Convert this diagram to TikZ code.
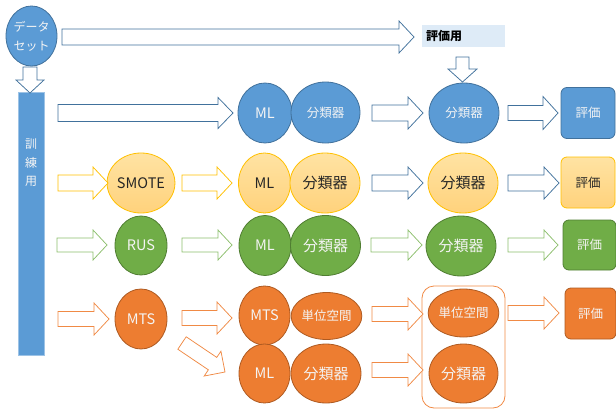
\documentclass[tikz,border=0pt]{standalone}
\usepackage{fontspec}
\setmainfont{Noto Sans CJK JP}
\usetikzlibrary{shapes.geometric,calc}
\definecolor{bfill}{HTML}{5B9BD5}
\definecolor{bline}{HTML}{41719C}
\definecolor{ytop}{HTML}{FFE3A3}
\definecolor{ybot}{HTML}{FFD27C}
\definecolor{yline}{HTML}{FFC000}
\definecolor{ytext}{HTML}{262626}
\definecolor{gfill}{HTML}{70AD47}
\definecolor{gline}{HTML}{507E32}
\definecolor{garrow}{HTML}{8CBF6C}
\definecolor{ofill}{HTML}{ED7D31}
\definecolor{oline}{HTML}{AE5A21}
\definecolor{oarrow}{HTML}{F08A45}
\definecolor{lblue}{HTML}{DEEBF7}
\definecolor{barborder}{HTML}{9DC3E6}
\definecolor{softwhite}{HTML}{F4F4F4}
\newcommand\fsz[1]{\fontsize{#1}{#1}\selectfont}
% style, start, end, body half width, head half width, head length
\newcommand\blockarrow[6]{%
  \draw[arrowshape,#1] let \p1=(#2), \p2=(#3),
    \n1={atan2(\y2-\y1,\x2-\x1)}, \n2={veclen(\x2-\x1,\y2-\y1)} in
    [shift={(\p1)}, rotate=\n1]
    (0pt,-#4pt) -- ({\n2*1pt-#6pt},-#4pt) -- ({\n2*1pt-#6pt},-#5pt)
    -- ({\n2*1pt},0pt) -- ({\n2*1pt-#6pt},#5pt) -- ({\n2*1pt-#6pt},#4pt)
    -- (0pt,#4pt) -- cycle;}
\begin{document}
\begin{tikzpicture}[x=1pt,y=-1pt,
  arrowshape/.style={draw, fill=white, line width=0.75pt, line join=miter},
  ab/.style={draw=bline},
  ay/.style={draw=yline},
  ag/.style={draw=garrow},
  ao/.style={draw=oarrow},
  ell/.style={ellipse, inner sep=0pt, line width=0.8pt},
  blueE/.style={ell, fill=bfill, draw=bline, text=softwhite},
  yelE/.style={ell, draw=yline, top color=ytop, bottom color=ybot, text=ytext},
  greE/.style={ell, fill=gfill, draw=gline, text=softwhite},
  orgE/.style={ell, fill=ofill, draw=oline, text=softwhite},
  mlsz/.style={minimum width=52pt, minimum height=60pt, font=\fsz{14.5}},
  clsz/.style={minimum width=70pt, minimum height=60pt, font=\fsz{15}},
  evbox/.style={rectangle, rounded corners=6pt, minimum width=54pt, minimum height=51pt, inner sep=0pt, line width=0.8pt, font=\fsz{12.5}},
]
\useasboundingbox (0,0) rectangle (616,410);

% ---------- top ----------
\node[blueE, minimum width=51pt, minimum height=60pt, align=center, font=\fontsize{12}{19}\selectfont] (ds) at (31.5,36) {データ\\セット};
\node[rectangle, fill=lblue, minimum width=83pt, minimum height=22pt, inner sep=0pt] (evset) at (463.5,36) {};
\node[anchor=west, inner sep=0pt, font=\fsz{12}\bfseries, text=black] (evsettxt) at (426,36) {評価用};
\node[rectangle, fill=bfill, draw=barborder, line width=0.6pt, minimum width=26pt, minimum height=263pt, inner sep=0pt] (train) at (31,223.5) {};
\node[align=center, text=softwhite, font=\fontsize{12}{18.5}\selectfont] (traintxt) at (31,163) {訓\\練\\用};

\coordinate (t0s) at (62,37);   \coordinate (t0e) at (414,37);
\coordinate (d1s) at (30,67);   \coordinate (d1e) at (30,93);
\coordinate (d2s) at (462.5,57); \coordinate (d2e) at (462.5,82);
\blockarrow{ab}{t0s}{t0e}{8}{16}{15}
\blockarrow{ab}{d1s}{d1e}{7}{14}{13}
\blockarrow{ab}{d2s}{d2e}{6.5}{14.5}{13}

% ---------- blue row ----------
\node[blueE, minimum width=54pt, minimum height=60pt, font=\fsz{14.5}] (ml1) at (265,113) {ML};
\node[blueE, minimum width=69pt, minimum height=61pt, font=\fsz{12.5}] (cl1) at (325.5,112.5) {分類器};
\node[blueE, minimum width=70pt, minimum height=60pt, font=\fsz{12.5}] (cl1b) at (464,113) {分類器};
\node[evbox, fill=bfill, draw=bline, text=softwhite] (ev1) at (588,113) {評価};
\coordinate (b1s) at (58,113);  \coordinate (b1e) at (233,113);
\coordinate (b2s) at (372,113); \coordinate (b2e) at (423,113);
\coordinate (b3s) at (508,113); \coordinate (b3e) at (558,113);
\blockarrow{ab}{b1s}{b1e}{8.5}{15.5}{15}
\blockarrow{ab}{b2s}{b2e}{8}{16}{15}
\blockarrow{ab}{b3s}{b3e}{7.5}{16.5}{15}

% ---------- yellow row ----------
\node[yelE, minimum width=52pt, minimum height=60pt, font=\fsz{14.5}] (smote) at (141,183) {SMOTE};
\node[yelE, mlsz] (ml2) at (264.5,183) {ML};
\node[yelE, clsz] (cl2) at (325,183) {分類器};
\node[yelE, clsz] (cl2b) at (463,183) {分類器};
\node[evbox, draw=yline, top color=ytop, bottom color=ybot, text=ytext] (ev2) at (588,182.5) {評価};
\coordinate (y1s) at (58,183);  \coordinate (y1e) at (108,183);
\coordinate (y2s) at (182,183); \coordinate (y2e) at (232,183);
\coordinate (y3s) at (372,183); \coordinate (y3e) at (423,183);
\coordinate (y4s) at (508,183); \coordinate (y4e) at (559,183);
\blockarrow{ay}{y1s}{y1e}{8}{16}{15}
\blockarrow{ay}{y2s}{y2e}{8}{16}{15}
\blockarrow{ab}{y3s}{y3e}{8}{16}{15}
\blockarrow{ab}{y4s}{y4e}{8}{16}{15}

% ---------- green row ----------
\node[greE, minimum width=52pt, minimum height=59pt, font=\fsz{14.5}] (rus) at (141,245.5) {RUS};
\node[greE, mlsz] (ml3) at (265,245.5) {ML};
\node[greE, clsz] (cl3) at (325.5,245.5) {分類器};
\node[greE, clsz] (cl3b) at (461,246) {分類器};
\node[evbox, fill=gfill, draw=gline, text=softwhite, minimum width=53pt, minimum height=50pt] (ev3) at (589.5,245) {評価};
\coordinate (g1s) at (57,245);  \coordinate (g1e) at (107,245);
\coordinate (g2s) at (182,245); \coordinate (g2e) at (232,245);
\coordinate (g3s) at (371,245); \coordinate (g3e) at (422,245);
\coordinate (g4s) at (508,245); \coordinate (g4e) at (558,245);
\blockarrow{ag}{g1s}{g1e}{7}{15}{14}
\blockarrow{ag}{g2s}{g2e}{7}{15}{14}
\blockarrow{ag}{g3s}{g3e}{7}{15}{14}
\blockarrow{ag}{g4s}{g4e}{7}{15}{14}

% ---------- orange row ----------
\node[orgE, minimum width=52pt, minimum height=60pt, font=\fsz{14.5}] (mts) at (141,319) {MTS};
\node[orgE, minimum width=51pt, minimum height=59pt, font=\fsz{14.5}] (mts2) at (264.5,315.5) {MTS};
\node[orgE, minimum width=69pt, minimum height=47pt, font=\fsz{12.5}] (unit1) at (326.5,316) {単位空間};
\node[orgE, minimum width=51pt, minimum height=59pt, font=\fsz{14.5}] (ml4) at (264.5,373.5) {ML};
\node[orgE, minimum width=70pt, minimum height=59pt, font=\fsz{15}] (cl4) at (326,373.5) {分類器};
\node[rectangle, rounded corners=12pt, draw=oarrow, line width=0.8pt, minimum width=83pt, minimum height=122pt, inner sep=0pt] (grp) at (463.5,347) {};
\node[orgE, minimum width=69pt, minimum height=48pt, font=\fsz{12.5}] (unit2) at (463.5,313) {単位空間};
\node[orgE, minimum width=69pt, minimum height=59pt, font=\fsz{15}] (cl4b) at (463.5,373.5) {分類器};
\node[evbox, fill=ofill, draw=oline, text=softwhite, minimum width=51pt, minimum height=51pt] (ev4) at (590.5,313.5) {評価};
\coordinate (o1s) at (58,319);  \coordinate (o1e) at (109,319);
\coordinate (o2s) at (182,318); \coordinate (o2e) at (232,318);
\coordinate (o3s) at (182,343); \coordinate (o3e) at (225,372);
\coordinate (o4s) at (372,314); \coordinate (o4e) at (423,314);
\coordinate (o5s) at (372,370); \coordinate (o5e) at (423,370);
\coordinate (o6s) at (508,313); \coordinate (o6e) at (559,313);
\blockarrow{ao}{o1s}{o1e}{7.5}{16}{15}
\blockarrow{ao}{o2s}{o2e}{7.5}{16}{15}
\blockarrow{ao}{o3s}{o3e}{7.5}{15}{15}
\blockarrow{ao}{o4s}{o4e}{7.5}{16}{15}
\blockarrow{ao}{o5s}{o5e}{7.5}{16}{15}
\blockarrow{ao}{o6s}{o6e}{7.5}{16}{15}
\end{tikzpicture}
\end{document}
